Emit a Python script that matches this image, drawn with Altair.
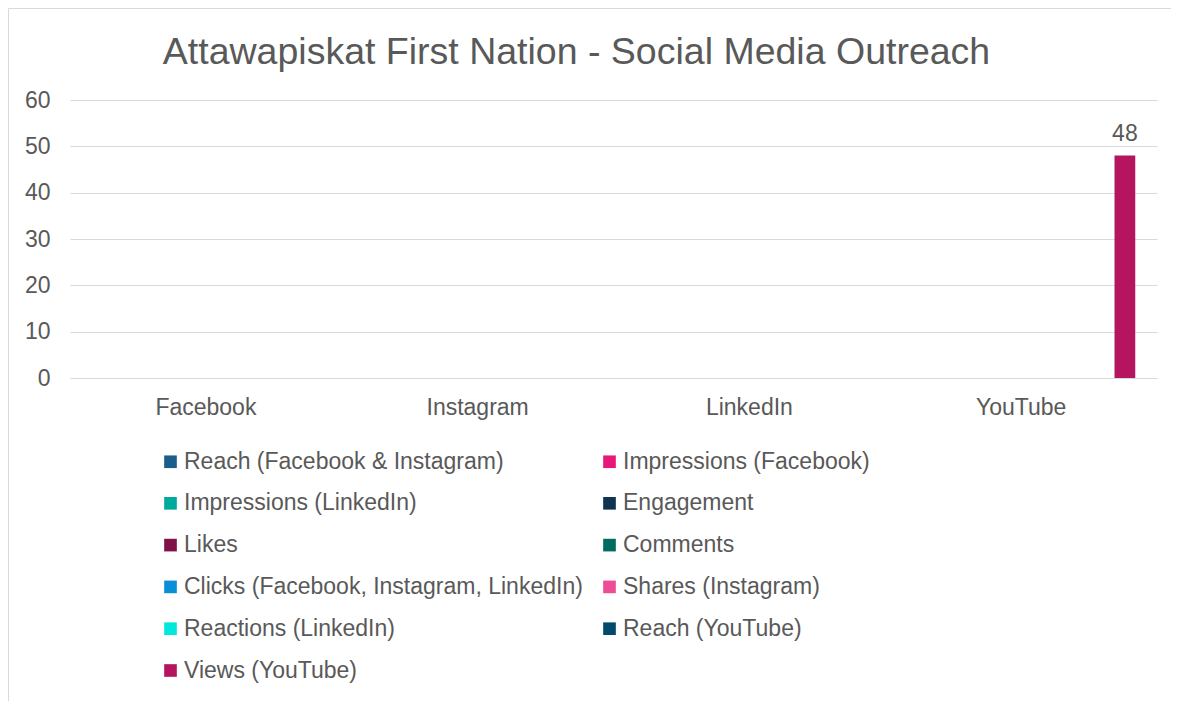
import altair as alt
import pandas as pd

platforms = ["Facebook", "Instagram", "LinkedIn", "YouTube"]
series = [
    "Reach (Facebook & Instagram)",
    "Impressions (Facebook)",
    "Impressions (LinkedIn)",
    "Engagement",
    "Likes",
    "Comments",
    "Clicks (Facebook, Instagram, LinkedIn)",
    "Shares (Instagram)",
    "Reactions (LinkedIn)",
    "Reach (YouTube)",
    "Views (YouTube)",
]
colors = ["#1B5E8C", "#E6197A", "#00A99D", "#0E3450", "#7F1146", "#006C5F",
          "#0A8ED6", "#EC4D96", "#00E8DC", "#004A6E", "#B5155F"]

# values per series, in platform order
values = {
    "Reach (Facebook & Instagram)": [0, 0, 0, 0],
    "Impressions (Facebook)": [0, 0, 0, 0],
    "Impressions (LinkedIn)": [0, 0, 0, 0],
    "Engagement": [0, 0, 0, 0],
    "Likes": [0, 0, 0, 0],
    "Comments": [0, 0, 0, 0],
    "Clicks (Facebook, Instagram, LinkedIn)": [0, 0, 0, 0],
    "Shares (Instagram)": [0, 0, 0, 0],
    "Reactions (LinkedIn)": [0, 0, 0, 0],
    "Reach (YouTube)": [0, 0, 0, 0],
    "Views (YouTube)": [0, 0, 0, 48],
}

rows = []
for s in series:
    for p, v in zip(platforms, values[s]):
        rows.append({"platform": p, "series": s, "value": v})
df = pd.DataFrame(rows)

# legend is filled column by column: reorder so it reads row by row like the original
legend_order = series[0::2] + series[1::2]
color_map = dict(zip(series, colors))
legend_colors = [color_map[s] for s in legend_order]

FONT = "Liberation Sans"
TXT = "#595959"
FS = 23
W, H = 1087, 278

x = alt.X("platform:N", sort=platforms, title=None,
          scale=alt.Scale(paddingInner=0.16, paddingOuter=0.08),
          axis=alt.Axis(labelAngle=0, ticks=False, domain=True, domainColor="#D9D9D9",
                        labelPadding=18, labelFontSize=FS, labelColor=TXT, labelFont=FONT))
xo = alt.XOffset("series:N", sort=series,
                 scale=alt.Scale(domain=series, paddingInner=0, paddingOuter=0))
y = alt.Y("value:Q", title=None,
          scale=alt.Scale(domain=[0, 60], nice=False),
          axis=alt.Axis(values=[0, 10, 20, 30, 40, 50, 60], ticks=False, domain=False,
                        gridColor="#D9D9D9", gridWidth=1, labelPadding=20,
                        labelFontSize=FS, labelColor=TXT, labelFont=FONT))

color = alt.Color("series:N",
                  scale=alt.Scale(domain=legend_order, range=legend_colors),
                  legend=alt.Legend(title=None, orient="none", legendX=89, legendY=350,
                                    columns=2, columnPadding=15, rowPadding=17.8,
                                    symbolType="square", symbolSize=160,
                                    symbolStrokeWidth=0, labelOffset=2,
                                    labelFontSize=FS, labelColor=TXT, labelFont=FONT,
                                    labelLimit=600, padding=0))

bars = alt.Chart(df).mark_bar().encode(x=x, xOffset=xo, y=y, color=color)

labels = alt.Chart(df).transform_filter("datum.value > 0").mark_text(
    dy=-10, baseline="bottom", fontSize=FS, font=FONT, color=TXT
).encode(x=x, xOffset=xo, y=y, text=alt.Text("value:Q"))

border = alt.Chart(alt.Data(values=[{}])).mark_rect(
    fill=None, stroke="#D9D9D9", strokeWidth=1
).encode(x=alt.value(-61.5), x2=alt.value(1105), y=alt.value(-91.5), y2=alt.value(720))

chart = alt.layer(bars, labels, border).properties(
    width=W, height=H,
    title=alt.TitleParams("Attawapiskat First Nation - Social Media Outreach",
                          fontSize=37.5, font=FONT, fontWeight="normal", color=TXT,
                          anchor="middle", dx=-37, offset=-63),
    autosize=alt.AutoSizeParams(type="none"),
    padding={"left": 62, "top": 92, "right": 14, "bottom": 330},
).configure_view(stroke=None)

chart.save("out.html", embed_options={"renderer": "svg", "actions": False})
